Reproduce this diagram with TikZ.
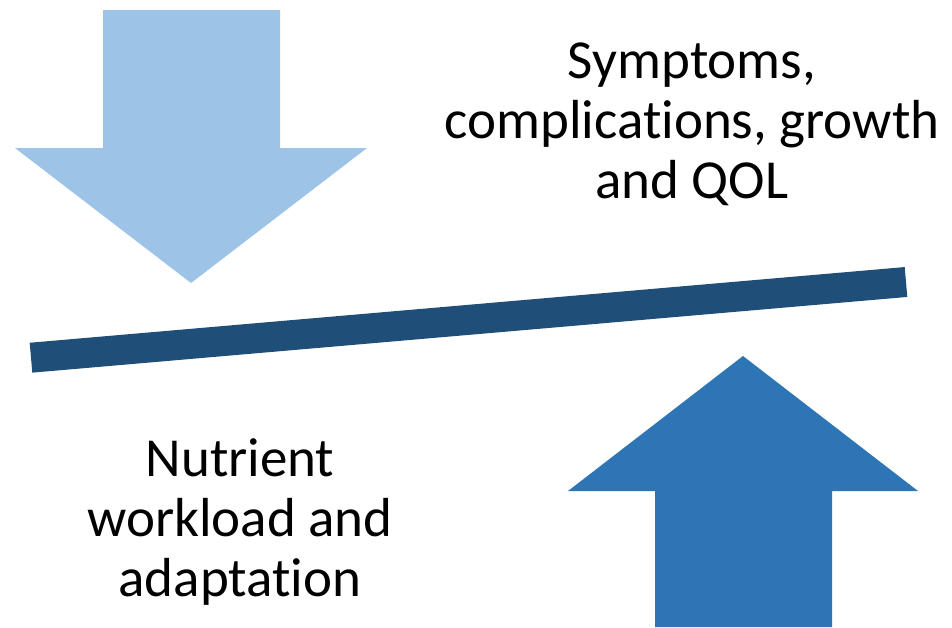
\documentclass[tikz,border=0pt]{standalone}
\usepackage{fontspec}
\setmainfont[Ligatures=NoCommon]{Carlito}
\definecolor{lightblue}{HTML}{9DC3E6}
\definecolor{midblue}{HTML}{2E75B6}
\definecolor{darkblue}{HTML}{1F4E79}
\begin{document}
\begin{tikzpicture}[x=1pt,y=-1pt,
  label/.style={align=center,inner sep=0pt,font=\fontsize{55}{60}\selectfont,text=black},
  bigarrow/.style={draw=none}]
\useasboundingbox (0,0) rectangle (952,627);
% downward arrow (light)
\fill[lightblue,bigarrow] (103,10) -- (280,10) -- (280,148) -- (367,148) -- (191,283)
  -- (15,148) -- (103,148) -- cycle;
% upward arrow (mid blue)
\fill[midblue,bigarrow] (655,627) -- (655,491) -- (568,491) -- (743,356) -- (918,491)
  -- (832,491) -- (832,627) -- cycle;
% tilted balance beam
\coordinate (beamL) at (31,357.7);
\coordinate (beamR) at (906,282);
\draw[darkblue,line width=30pt] (beamL) -- (beamR);
% labels (anchored on the baseline of their last line)
\node[label,anchor=base] (outcomes) at (692,198) {Symptoms,\\complications, growth\\and QOL};
\node[label,anchor=base] (nutrient) at (240,596) {Nutrient\\workload and\\adaptation};
\end{tikzpicture}
\end{document}
